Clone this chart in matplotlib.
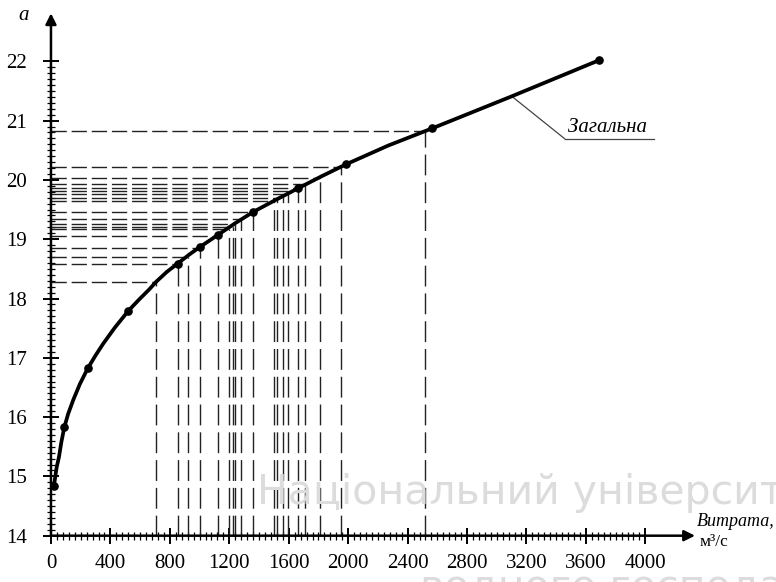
import numpy as np
import matplotlib
matplotlib.use("Agg")
import matplotlib.pyplot as plt
from matplotlib.ticker import FixedLocator
from matplotlib.lines import Line2D

# крива
curve_q = [20, 28, 38, 54, 70, 90, 115, 150, 195, 247, 300, 352, 430, 520,
           592, 660, 707, 780, 853, 930, 1003, 1122, 1240, 1361, 1510, 1664,
           1820, 1983, 2270, 2566, 3101, 3690]
curve_a = [14.84, 14.98, 15.15, 15.33, 15.58, 15.83, 16.05, 16.29, 16.56,
           16.82, 17.04, 17.24, 17.51, 17.79, 17.98, 18.15, 18.28, 18.45,
           18.59, 18.74, 18.87, 19.07, 19.27, 19.46, 19.66, 19.86, 20.06,
           20.26, 20.58, 20.87, 21.41, 22.02]

# точки на кривій
dot_q = [20, 90, 247, 520, 853, 1003, 1122, 1361, 1664, 1983, 2566, 3690]
dot_a = [14.84, 15.83, 16.82, 17.79, 18.59, 18.87, 19.07, 19.46, 19.86,
         20.26, 20.87, 22.02]

# пунктирні проекції
drop_q = [704, 852, 924, 1003, 1122, 1200, 1222, 1240, 1281, 1361, 1503,
          1519, 1559, 1595, 1664, 1709, 1810, 1954, 2519]
drop_a = [18.28, 18.59, 18.70, 18.86, 19.06, 19.17, 19.21, 19.26, 19.34,
          19.46, 19.64, 19.70, 19.76, 19.81, 19.87, 19.93, 20.04, 20.21,
          20.82]

x_ticks = [0, 400, 800, 1200, 1600, 2000, 2400, 2800, 3200, 3600, 4000]
y_ticks = [14, 15, 16, 17, 18, 19, 20, 21, 22]

leader_q, leader_a = 3101, 21.41

W, H = 776, 582
fig = plt.figure(figsize=(W / 100, H / 100), dpi=100)
ax = fig.add_axes([0, 0, 1, 1])
ax.set_xlim(-343, 4879)
ax.set_ylim(13.219, 23.034)

serif = ["Liberation Serif", "DejaVu Serif"]

# водяний знак
wm = dict(family=["DejaVu Sans"], fontsize=29.5, color="#dcdcdc", zorder=0,
          transform=fig.transFigure, va="center", ha="left")
fig.text(257 / W, 1 - 493 / H, "Національний університет", **wm)
fig.text(420 / W, 1 - 588 / H, "водного господарства", **wm)

# пунктир
for q, a in zip(drop_q, drop_a):
    ax.plot([0, q], [a, a], color="#222222", lw=1.0, dashes=(11, 3.5), zorder=2)
    ax.plot([q, q], [14, a], color="#222222", lw=1.0, dashes=(15, 5), zorder=2)

ax.plot(curve_q, curve_a, color="black", lw=2.7, zorder=4,
        solid_capstyle="round", solid_joinstyle="round")
ax.plot(dot_q, dot_a, "o", color="black", ms=5.2, zorder=5)

# осі
for s in ax.spines.values():
    s.set_visible(False)
ax.spines["left"].set_position(("data", 0))
ax.spines["bottom"].set_position(("data", 14))
ax.annotate("", xy=(4334, 14), xytext=(0, 14),
            arrowprops=dict(arrowstyle="-|>", lw=1.8, color="black",
                            mutation_scale=16, shrinkA=0, shrinkB=0), zorder=6)
ax.annotate("", xy=(0, 22.81), xytext=(0, 14),
            arrowprops=dict(arrowstyle="-|>", lw=1.8, color="black",
                            mutation_scale=16, shrinkA=0, shrinkB=0), zorder=6)

ax.set_xticks(x_ticks)
ax.set_yticks(y_ticks)
ax.xaxis.set_minor_locator(FixedLocator(np.arange(0, 4001, 40)))
ax.yaxis.set_minor_locator(FixedLocator(np.arange(14, 22.01, 0.1)))
ax.tick_params(which="major", direction="inout", length=12, width=1.4, color="black")
ax.tick_params(which="minor", direction="inout", length=6, width=0.9, color="black")
ax.tick_params(axis="x", which="major", pad=7, labelsize=15)
ax.tick_params(axis="y", which="major", pad=11, labelsize=15)
for lab in ax.get_xticklabels() + ax.get_yticklabels():
    lab.set_family(serif)
ax.patch.set_visible(False)

# підписи
fig.text(24 / W, 1 - 15 / H, "a", family=serif, style="italic", fontsize=15,
         ha="center", va="center")
fig.text(775 / W, 1 - 522 / H, "Витрата,", family=serif, style="italic",
         fontsize=13, ha="right", va="center")
fig.text(700 / W, 1 - 542 / H, "м³/с", family=serif, fontsize=12.5,
         ha="left", va="center")

fig.text(568 / W, 1 - 127 / H, "Загальна", family=serif, style="italic",
         fontsize=15, ha="left", va="center")
fig.add_artist(Line2D([565 / W, 654 / W], [1 - 139 / H, 1 - 139 / H],
                      transform=fig.transFigure, color="#444444", lw=0.9))
ax.annotate("", xy=(leader_q, leader_a), xycoords="data",
            xytext=(565 / W, 1 - 139 / H), textcoords="figure fraction",
            arrowprops=dict(arrowstyle="-", lw=0.9, color="#444444",
                            shrinkA=0, shrinkB=0))

fig.savefig("out.png", dpi=100)
